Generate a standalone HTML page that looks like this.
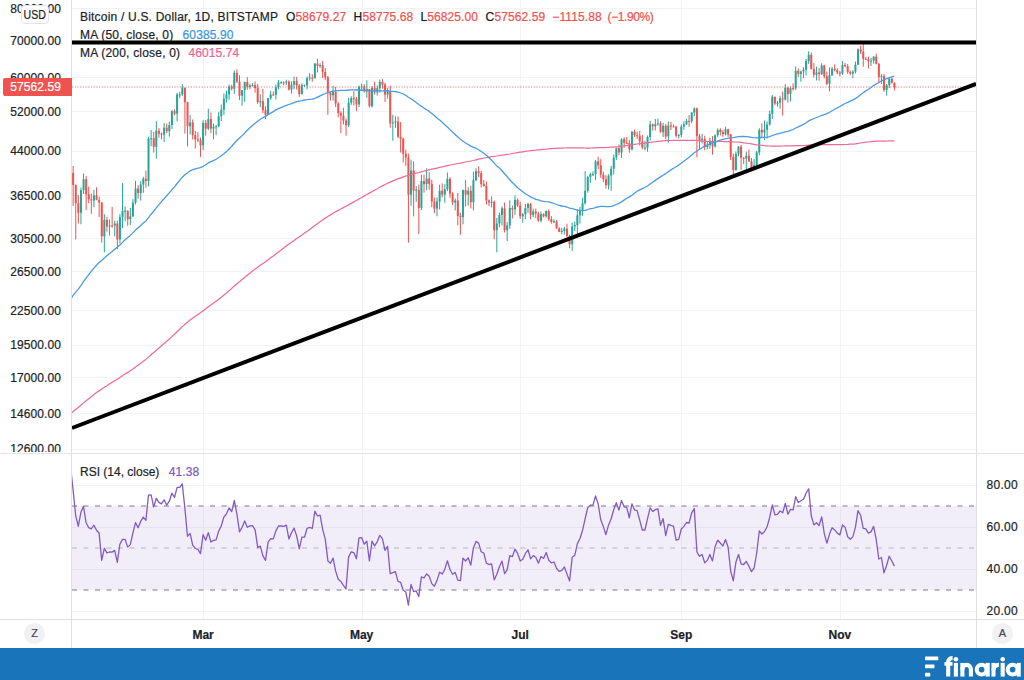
<!DOCTYPE html>
<html><head><meta charset="utf-8"><title>BTCUSD</title>
<style>
html,body{margin:0;padding:0;background:#fff;}
body{width:1024px;height:680px;overflow:hidden;position:relative;font-family:"Liberation Sans",sans-serif;color:#1c1f2a;font-size:12px;-webkit-text-stroke:0.22px currentColor;}
#chart{position:absolute;left:0;top:0;}
.pl{position:absolute;left:0;width:61px;text-align:right;height:16px;line-height:16px;font-size:12px;letter-spacing:0.1px;}
.rl{position:absolute;left:986.6px;height:16px;line-height:16px;font-size:12px;letter-spacing:0.25px;}
.ml{position:absolute;top:627px;width:60px;text-align:center;height:16px;line-height:16px;font-size:12px;font-weight:bold;}
#clip{position:absolute;left:0;top:0;width:72px;height:452.2px;overflow:hidden;}
#usd{position:absolute;left:21px;top:5px;width:26px;height:16.5px;border:1px solid #e0e3eb;border-radius:4px;background:#fff;text-align:center;line-height:18px;font-size:12px;}
#cur{position:absolute;left:3px;top:78.0px;width:69px;height:18px;background:#ef5350;color:#fff;border-radius:2px 0 0 2px;line-height:18px;font-size:12px;}
#cur span{position:absolute;right:11px;letter-spacing:0.1px;}
.lg{position:absolute;left:80px;height:16px;line-height:16px;white-space:nowrap;font-size:12px;}
.tx{letter-spacing:0.2px;}
.ab{position:absolute;height:16px;line-height:16px;white-space:nowrap;font-size:12px;letter-spacing:0.1px;}
.ab.r{color:#ef5350;}
.ab b{font-weight:normal;color:#131722;}
.btn{position:absolute;width:21px;height:21px;border-radius:50%;background:#f1f1f4;text-align:center;line-height:21px;font-size:11px;color:#45474f;}
#foot{position:absolute;left:0;top:648px;width:1024px;height:32px;background:#1974ba;}
</style></head><body>
<svg id="chart" width="1024" height="648" viewBox="0 0 1024 648">
<rect width="1024" height="648" fill="#fff"/>
<line x1="72" x2="976" y1="8.5" y2="8.5" stroke="#f2f3f5" stroke-width="1"/>
<line x1="72" x2="976" y1="40.5" y2="40.5" stroke="#f2f3f5" stroke-width="1"/>
<line x1="72" x2="976" y1="77.5" y2="77.5" stroke="#f2f3f5" stroke-width="1"/>
<line x1="72" x2="976" y1="111.5" y2="111.5" stroke="#f2f3f5" stroke-width="1"/>
<line x1="72" x2="976" y1="151.5" y2="151.5" stroke="#f2f3f5" stroke-width="1"/>
<line x1="72" x2="976" y1="195.5" y2="195.5" stroke="#f2f3f5" stroke-width="1"/>
<line x1="72" x2="976" y1="238.5" y2="238.5" stroke="#f2f3f5" stroke-width="1"/>
<line x1="72" x2="976" y1="271.5" y2="271.5" stroke="#f2f3f5" stroke-width="1"/>
<line x1="72" x2="976" y1="310.5" y2="310.5" stroke="#f2f3f5" stroke-width="1"/>
<line x1="72" x2="976" y1="345.5" y2="345.5" stroke="#f2f3f5" stroke-width="1"/>
<line x1="72" x2="976" y1="377.5" y2="377.5" stroke="#f2f3f5" stroke-width="1"/>
<line x1="72" x2="976" y1="413.5" y2="413.5" stroke="#f2f3f5" stroke-width="1"/>
<line x1="72" x2="976" y1="449.5" y2="449.5" stroke="#f2f3f5" stroke-width="1"/>
<line x1="72" x2="976" y1="485.5" y2="485.5" stroke="#f2f3f5" stroke-width="1"/>
<line x1="72" x2="976" y1="527.5" y2="527.5" stroke="#f2f3f5" stroke-width="1"/>
<line x1="72" x2="976" y1="569.5" y2="569.5" stroke="#f2f3f5" stroke-width="1"/>
<line x1="72" x2="976" y1="611.5" y2="611.5" stroke="#f2f3f5" stroke-width="1"/>
<line x1="203.5" x2="203.5" y1="0" y2="619" stroke="#f2f3f5" stroke-width="1"/>
<line x1="362.5" x2="362.5" y1="0" y2="619" stroke="#f2f3f5" stroke-width="1"/>
<line x1="520.5" x2="520.5" y1="0" y2="619" stroke="#f2f3f5" stroke-width="1"/>
<line x1="681.5" x2="681.5" y1="0" y2="619" stroke="#f2f3f5" stroke-width="1"/>
<line x1="840.5" x2="840.5" y1="0" y2="619" stroke="#f2f3f5" stroke-width="1"/>
<!-- RSI band -->
<rect x="72" y="506.0" width="904" height="84.0" fill="#7e57c2" fill-opacity="0.1"/>
<line x1="72" x2="976" y1="506.0" y2="506.0" stroke="#787b86" stroke-width="1" stroke-dasharray="5 6.5"/>
<line x1="72" x2="976" y1="590.0" y2="590.0" stroke="#787b86" stroke-width="1" stroke-dasharray="5 6.5"/>
<line x1="72" x2="976" y1="548.0" y2="548.0" stroke="#b2b5be" stroke-width="1" stroke-dasharray="5 6.5"/>
<defs><clipPath id="cp"><rect x="72" y="0" width="904" height="619"/></clipPath></defs>
<g clip-path="url(#cp)">
<g id="candles">
<rect x="72.65" y="165.91" width="1" height="40.00" fill="#ef5350"/>
<rect x="72.15" y="172.91" width="2" height="12.16" fill="#ef5350"/>
<rect x="75.25" y="184.45" width="1" height="55.03" fill="#ef5350"/>
<rect x="74.75" y="185.07" width="2" height="18.13" fill="#ef5350"/>
<rect x="77.85" y="195.26" width="1" height="28.30" fill="#ef5350"/>
<rect x="77.35" y="203.20" width="2" height="9.61" fill="#ef5350"/>
<rect x="80.45" y="187.58" width="1" height="36.72" fill="#26a69a"/>
<rect x="79.95" y="190.11" width="2" height="22.70" fill="#26a69a"/>
<rect x="83.05" y="173.51" width="1" height="20.46" fill="#26a69a"/>
<rect x="82.55" y="179.22" width="2" height="10.89" fill="#26a69a"/>
<rect x="85.64" y="175.89" width="1" height="34.13" fill="#ef5350"/>
<rect x="85.14" y="179.22" width="2" height="15.07" fill="#ef5350"/>
<rect x="88.24" y="186.63" width="1" height="16.57" fill="#ef5350"/>
<rect x="87.74" y="194.29" width="2" height="4.91" fill="#ef5350"/>
<rect x="90.84" y="193.64" width="1" height="20.23" fill="#ef5350"/>
<rect x="90.34" y="199.20" width="2" height="1.33" fill="#ef5350"/>
<rect x="93.44" y="189.79" width="1" height="17.48" fill="#26a69a"/>
<rect x="92.94" y="195.26" width="2" height="5.26" fill="#26a69a"/>
<rect x="96.04" y="187.26" width="1" height="12.93" fill="#ef5350"/>
<rect x="95.54" y="195.26" width="2" height="4.60" fill="#ef5350"/>
<rect x="98.64" y="196.57" width="1" height="20.49" fill="#ef5350"/>
<rect x="98.14" y="199.86" width="2" height="2.67" fill="#ef5350"/>
<rect x="101.24" y="201.86" width="1" height="40.77" fill="#ef5350"/>
<rect x="100.74" y="202.53" width="2" height="33.83" fill="#ef5350"/>
<rect x="103.84" y="214.22" width="1" height="38.13" fill="#26a69a"/>
<rect x="103.34" y="219.92" width="2" height="16.43" fill="#26a69a"/>
<rect x="106.44" y="216.70" width="1" height="15.06" fill="#ef5350"/>
<rect x="105.94" y="219.92" width="2" height="6.59" fill="#ef5350"/>
<rect x="109.04" y="219.56" width="1" height="16.02" fill="#26a69a"/>
<rect x="108.54" y="225.40" width="2" height="1.11" fill="#26a69a"/>
<rect x="111.63" y="206.93" width="1" height="21.07" fill="#ef5350"/>
<rect x="111.13" y="225.40" width="2" height="1.00" fill="#ef5350"/>
<rect x="114.23" y="220.65" width="1" height="15.71" fill="#26a69a"/>
<rect x="113.73" y="223.56" width="2" height="2.06" fill="#26a69a"/>
<rect x="116.83" y="220.65" width="1" height="28.42" fill="#ef5350"/>
<rect x="116.33" y="223.56" width="2" height="15.91" fill="#ef5350"/>
<rect x="119.43" y="214.22" width="1" height="29.20" fill="#26a69a"/>
<rect x="118.93" y="217.05" width="2" height="22.42" fill="#26a69a"/>
<rect x="122.03" y="183.20" width="1" height="44.79" fill="#26a69a"/>
<rect x="121.53" y="210.72" width="2" height="6.33" fill="#26a69a"/>
<rect x="124.63" y="206.59" width="1" height="14.78" fill="#26a69a"/>
<rect x="124.13" y="210.72" width="2" height="1.00" fill="#26a69a"/>
<rect x="127.23" y="210.37" width="1" height="15.40" fill="#ef5350"/>
<rect x="126.73" y="210.72" width="2" height="8.48" fill="#ef5350"/>
<rect x="129.83" y="207.96" width="1" height="17.07" fill="#26a69a"/>
<rect x="129.33" y="216.34" width="2" height="2.86" fill="#26a69a"/>
<rect x="132.43" y="199.20" width="1" height="17.86" fill="#26a69a"/>
<rect x="131.93" y="202.53" width="2" height="13.81" fill="#26a69a"/>
<rect x="135.03" y="180.79" width="1" height="23.69" fill="#26a69a"/>
<rect x="134.53" y="188.52" width="2" height="14.01" fill="#26a69a"/>
<rect x="137.62" y="185.08" width="1" height="13.65" fill="#ef5350"/>
<rect x="137.12" y="188.52" width="2" height="4.47" fill="#ef5350"/>
<rect x="140.22" y="181.08" width="1" height="19.54" fill="#26a69a"/>
<rect x="139.72" y="184.45" width="2" height="8.55" fill="#26a69a"/>
<rect x="142.82" y="176.81" width="1" height="15.94" fill="#26a69a"/>
<rect x="142.32" y="178.61" width="2" height="5.84" fill="#26a69a"/>
<rect x="145.42" y="170.56" width="1" height="17.11" fill="#ef5350"/>
<rect x="144.92" y="178.61" width="2" height="2.44" fill="#ef5350"/>
<rect x="148.02" y="136.70" width="1" height="49.62" fill="#26a69a"/>
<rect x="147.52" y="138.75" width="2" height="42.30" fill="#26a69a"/>
<rect x="150.62" y="130.08" width="1" height="16.10" fill="#26a69a"/>
<rect x="150.12" y="138.23" width="2" height="1.00" fill="#26a69a"/>
<rect x="153.22" y="131.83" width="1" height="20.67" fill="#ef5350"/>
<rect x="152.72" y="138.23" width="2" height="8.61" fill="#ef5350"/>
<rect x="155.82" y="121.17" width="1" height="37.43" fill="#26a69a"/>
<rect x="155.32" y="130.67" width="2" height="16.17" fill="#26a69a"/>
<rect x="158.42" y="127.78" width="1" height="9.77" fill="#ef5350"/>
<rect x="157.92" y="130.67" width="2" height="3.00" fill="#ef5350"/>
<rect x="161.02" y="132.56" width="1" height="6.76" fill="#ef5350"/>
<rect x="160.52" y="133.67" width="2" height="1.01" fill="#ef5350"/>
<rect x="163.62" y="122.91" width="1" height="19.06" fill="#26a69a"/>
<rect x="163.12" y="127.71" width="2" height="6.96" fill="#26a69a"/>
<rect x="166.21" y="123.51" width="1" height="9.57" fill="#ef5350"/>
<rect x="165.71" y="127.71" width="2" height="3.46" fill="#ef5350"/>
<rect x="168.81" y="121.62" width="1" height="15.01" fill="#26a69a"/>
<rect x="168.31" y="125.03" width="2" height="6.14" fill="#26a69a"/>
<rect x="171.41" y="110.09" width="1" height="19.07" fill="#26a69a"/>
<rect x="170.91" y="111.15" width="2" height="13.88" fill="#26a69a"/>
<rect x="174.01" y="109.20" width="1" height="6.14" fill="#ef5350"/>
<rect x="173.51" y="111.15" width="2" height="2.53" fill="#ef5350"/>
<rect x="176.61" y="92.84" width="1" height="28.47" fill="#26a69a"/>
<rect x="176.11" y="94.38" width="2" height="19.30" fill="#26a69a"/>
<rect x="179.21" y="91.77" width="1" height="6.39" fill="#26a69a"/>
<rect x="178.71" y="94.38" width="2" height="1.00" fill="#26a69a"/>
<rect x="181.81" y="84.16" width="1" height="11.93" fill="#26a69a"/>
<rect x="181.31" y="87.66" width="2" height="6.72" fill="#26a69a"/>
<rect x="184.41" y="87.66" width="1" height="46.01" fill="#ef5350"/>
<rect x="183.91" y="87.66" width="2" height="14.52" fill="#ef5350"/>
<rect x="187.01" y="101.73" width="1" height="44.84" fill="#ef5350"/>
<rect x="186.51" y="102.17" width="2" height="24.07" fill="#ef5350"/>
<rect x="189.60" y="115.04" width="1" height="19.27" fill="#26a69a"/>
<rect x="189.10" y="122.38" width="2" height="3.87" fill="#26a69a"/>
<rect x="192.20" y="119.39" width="1" height="20.03" fill="#ef5350"/>
<rect x="191.70" y="122.38" width="2" height="12.80" fill="#ef5350"/>
<rect x="194.80" y="130.95" width="1" height="17.35" fill="#ef5350"/>
<rect x="194.30" y="135.18" width="2" height="4.08" fill="#ef5350"/>
<rect x="197.40" y="132.14" width="1" height="10.11" fill="#ef5350"/>
<rect x="196.90" y="139.26" width="2" height="1.03" fill="#ef5350"/>
<rect x="200.00" y="137.72" width="1" height="19.15" fill="#ef5350"/>
<rect x="199.50" y="140.29" width="2" height="4.96" fill="#ef5350"/>
<rect x="202.60" y="120.25" width="1" height="29.85" fill="#26a69a"/>
<rect x="202.10" y="122.86" width="2" height="22.39" fill="#26a69a"/>
<rect x="205.20" y="120.00" width="1" height="15.69" fill="#ef5350"/>
<rect x="204.70" y="122.86" width="2" height="5.83" fill="#ef5350"/>
<rect x="207.80" y="108.65" width="1" height="21.53" fill="#26a69a"/>
<rect x="207.30" y="119.05" width="2" height="9.65" fill="#26a69a"/>
<rect x="210.40" y="112.52" width="1" height="20.64" fill="#ef5350"/>
<rect x="209.90" y="119.05" width="2" height="9.65" fill="#ef5350"/>
<rect x="213.00" y="123.58" width="1" height="15.68" fill="#26a69a"/>
<rect x="212.50" y="126.73" width="2" height="1.96" fill="#26a69a"/>
<rect x="215.59" y="124.79" width="1" height="10.39" fill="#26a69a"/>
<rect x="215.09" y="126.25" width="2" height="1.00" fill="#26a69a"/>
<rect x="218.19" y="111.95" width="1" height="15.39" fill="#26a69a"/>
<rect x="217.69" y="116.23" width="2" height="10.02" fill="#26a69a"/>
<rect x="220.79" y="104.51" width="1" height="16.61" fill="#26a69a"/>
<rect x="220.29" y="109.78" width="2" height="6.45" fill="#26a69a"/>
<rect x="223.39" y="93.50" width="1" height="21.41" fill="#26a69a"/>
<rect x="222.89" y="98.68" width="2" height="11.10" fill="#26a69a"/>
<rect x="225.99" y="90.63" width="1" height="11.97" fill="#26a69a"/>
<rect x="225.49" y="94.38" width="2" height="4.30" fill="#26a69a"/>
<rect x="228.59" y="84.73" width="1" height="15.22" fill="#26a69a"/>
<rect x="228.09" y="86.42" width="2" height="7.96" fill="#26a69a"/>
<rect x="231.19" y="84.85" width="1" height="5.48" fill="#ef5350"/>
<rect x="230.69" y="86.42" width="2" height="2.28" fill="#ef5350"/>
<rect x="233.79" y="70.48" width="1" height="23.48" fill="#26a69a"/>
<rect x="233.29" y="72.80" width="2" height="15.89" fill="#26a69a"/>
<rect x="236.39" y="69.34" width="1" height="13.66" fill="#ef5350"/>
<rect x="235.89" y="72.80" width="2" height="8.72" fill="#ef5350"/>
<rect x="238.99" y="75.15" width="1" height="24.83" fill="#ef5350"/>
<rect x="238.49" y="81.52" width="2" height="14.14" fill="#ef5350"/>
<rect x="241.58" y="89.95" width="1" height="15.78" fill="#26a69a"/>
<rect x="241.08" y="90.16" width="2" height="5.51" fill="#26a69a"/>
<rect x="244.18" y="81.72" width="1" height="20.01" fill="#26a69a"/>
<rect x="243.68" y="81.93" width="2" height="8.23" fill="#26a69a"/>
<rect x="246.78" y="77.12" width="1" height="12.61" fill="#ef5350"/>
<rect x="246.28" y="81.93" width="2" height="5.11" fill="#ef5350"/>
<rect x="249.38" y="83.63" width="1" height="5.61" fill="#26a69a"/>
<rect x="248.88" y="85.39" width="2" height="1.65" fill="#26a69a"/>
<rect x="251.98" y="83.20" width="1" height="3.23" fill="#26a69a"/>
<rect x="251.48" y="85.18" width="2" height="1.00" fill="#26a69a"/>
<rect x="254.58" y="81.31" width="1" height="11.33" fill="#ef5350"/>
<rect x="254.08" y="85.18" width="2" height="2.89" fill="#ef5350"/>
<rect x="257.18" y="83.96" width="1" height="19.99" fill="#ef5350"/>
<rect x="256.68" y="88.07" width="2" height="14.10" fill="#ef5350"/>
<rect x="259.78" y="94.38" width="1" height="12.69" fill="#26a69a"/>
<rect x="259.28" y="101.08" width="2" height="1.10" fill="#26a69a"/>
<rect x="262.38" y="88.90" width="1" height="24.08" fill="#ef5350"/>
<rect x="261.88" y="101.08" width="2" height="9.16" fill="#ef5350"/>
<rect x="264.98" y="106.17" width="1" height="12.88" fill="#ef5350"/>
<rect x="264.48" y="110.24" width="2" height="4.60" fill="#ef5350"/>
<rect x="267.57" y="97.81" width="1" height="17.25" fill="#26a69a"/>
<rect x="267.07" y="98.24" width="2" height="16.59" fill="#26a69a"/>
<rect x="270.17" y="90.85" width="1" height="9.06" fill="#26a69a"/>
<rect x="269.67" y="94.59" width="2" height="3.65" fill="#26a69a"/>
<rect x="272.77" y="91.49" width="1" height="4.09" fill="#ef5350"/>
<rect x="272.27" y="94.59" width="2" height="1.00" fill="#ef5350"/>
<rect x="275.37" y="84.55" width="1" height="14.96" fill="#26a69a"/>
<rect x="274.87" y="87.24" width="2" height="7.56" fill="#26a69a"/>
<rect x="277.97" y="79.95" width="1" height="9.34" fill="#26a69a"/>
<rect x="277.47" y="82.33" width="2" height="4.91" fill="#26a69a"/>
<rect x="280.57" y="81.28" width="1" height="2.39" fill="#26a69a"/>
<rect x="280.07" y="82.33" width="2" height="1.00" fill="#26a69a"/>
<rect x="283.17" y="81.35" width="1" height="4.08" fill="#ef5350"/>
<rect x="282.67" y="82.33" width="2" height="1.00" fill="#ef5350"/>
<rect x="285.77" y="79.72" width="1" height="5.31" fill="#26a69a"/>
<rect x="285.27" y="81.52" width="2" height="1.01" fill="#26a69a"/>
<rect x="288.37" y="80.33" width="1" height="10.16" fill="#ef5350"/>
<rect x="287.87" y="81.52" width="2" height="8.01" fill="#ef5350"/>
<rect x="290.97" y="81.37" width="1" height="12.32" fill="#26a69a"/>
<rect x="290.47" y="84.77" width="2" height="4.75" fill="#26a69a"/>
<rect x="293.56" y="76.56" width="1" height="12.72" fill="#26a69a"/>
<rect x="293.06" y="81.12" width="2" height="3.66" fill="#26a69a"/>
<rect x="296.16" y="76.91" width="1" height="12.70" fill="#ef5350"/>
<rect x="295.66" y="81.12" width="2" height="4.48" fill="#ef5350"/>
<rect x="298.76" y="84.02" width="1" height="12.85" fill="#ef5350"/>
<rect x="298.26" y="85.59" width="2" height="8.36" fill="#ef5350"/>
<rect x="301.36" y="83.23" width="1" height="11.43" fill="#26a69a"/>
<rect x="300.86" y="85.18" width="2" height="8.77" fill="#26a69a"/>
<rect x="303.96" y="84.57" width="1" height="2.12" fill="#26a69a"/>
<rect x="303.46" y="85.18" width="2" height="1.00" fill="#26a69a"/>
<rect x="306.56" y="76.39" width="1" height="12.96" fill="#26a69a"/>
<rect x="306.06" y="78.31" width="2" height="6.87" fill="#26a69a"/>
<rect x="309.16" y="73.06" width="1" height="7.69" fill="#26a69a"/>
<rect x="308.66" y="77.52" width="2" height="1.00" fill="#26a69a"/>
<rect x="311.76" y="74.18" width="1" height="7.49" fill="#ef5350"/>
<rect x="311.26" y="77.52" width="2" height="1.00" fill="#ef5350"/>
<rect x="314.36" y="62.89" width="1" height="15.82" fill="#26a69a"/>
<rect x="313.86" y="63.64" width="2" height="14.48" fill="#26a69a"/>
<rect x="316.96" y="58.82" width="1" height="13.59" fill="#ef5350"/>
<rect x="316.46" y="63.64" width="2" height="2.26" fill="#ef5350"/>
<rect x="319.56" y="63.29" width="1" height="4.51" fill="#26a69a"/>
<rect x="319.06" y="65.14" width="2" height="1.00" fill="#26a69a"/>
<rect x="322.15" y="60.99" width="1" height="16.98" fill="#ef5350"/>
<rect x="321.65" y="65.14" width="2" height="6.88" fill="#ef5350"/>
<rect x="324.75" y="67.97" width="1" height="12.22" fill="#ef5350"/>
<rect x="324.25" y="72.02" width="2" height="5.49" fill="#ef5350"/>
<rect x="327.35" y="75.94" width="1" height="38.90" fill="#ef5350"/>
<rect x="326.85" y="77.52" width="2" height="15.58" fill="#ef5350"/>
<rect x="329.95" y="91.67" width="1" height="8.73" fill="#ef5350"/>
<rect x="329.45" y="93.10" width="2" height="2.13" fill="#ef5350"/>
<rect x="332.55" y="85.75" width="1" height="15.04" fill="#26a69a"/>
<rect x="332.05" y="91.84" width="2" height="3.40" fill="#26a69a"/>
<rect x="335.15" y="86.96" width="1" height="20.16" fill="#ef5350"/>
<rect x="334.65" y="91.84" width="2" height="11.66" fill="#ef5350"/>
<rect x="337.75" y="102.09" width="1" height="15.18" fill="#ef5350"/>
<rect x="337.25" y="103.50" width="2" height="9.48" fill="#ef5350"/>
<rect x="340.35" y="111.15" width="1" height="22.02" fill="#ef5350"/>
<rect x="339.85" y="112.98" width="2" height="2.55" fill="#ef5350"/>
<rect x="342.95" y="107.75" width="1" height="16.67" fill="#ef5350"/>
<rect x="342.45" y="115.53" width="2" height="4.94" fill="#ef5350"/>
<rect x="345.55" y="118.58" width="1" height="17.11" fill="#ef5350"/>
<rect x="345.05" y="120.47" width="2" height="4.80" fill="#ef5350"/>
<rect x="348.14" y="97.88" width="1" height="29.31" fill="#26a69a"/>
<rect x="347.64" y="102.62" width="2" height="22.66" fill="#26a69a"/>
<rect x="350.74" y="96.25" width="1" height="8.61" fill="#26a69a"/>
<rect x="350.24" y="98.24" width="2" height="4.37" fill="#26a69a"/>
<rect x="353.34" y="91.19" width="1" height="14.29" fill="#ef5350"/>
<rect x="352.84" y="98.24" width="2" height="1.00" fill="#ef5350"/>
<rect x="355.94" y="96.95" width="1" height="14.19" fill="#ef5350"/>
<rect x="355.44" y="98.90" width="2" height="5.49" fill="#ef5350"/>
<rect x="358.54" y="85.59" width="1" height="21.47" fill="#26a69a"/>
<rect x="358.04" y="86.62" width="2" height="17.76" fill="#26a69a"/>
<rect x="361.14" y="83.57" width="1" height="7.11" fill="#26a69a"/>
<rect x="360.64" y="86.42" width="2" height="1.00" fill="#26a69a"/>
<rect x="363.74" y="84.28" width="1" height="8.41" fill="#ef5350"/>
<rect x="363.24" y="86.42" width="2" height="5.00" fill="#ef5350"/>
<rect x="366.34" y="80.31" width="1" height="17.49" fill="#26a69a"/>
<rect x="365.84" y="88.90" width="2" height="2.51" fill="#26a69a"/>
<rect x="368.94" y="88.90" width="1" height="18.62" fill="#ef5350"/>
<rect x="368.44" y="88.90" width="2" height="17.27" fill="#ef5350"/>
<rect x="371.53" y="86.01" width="1" height="21.51" fill="#26a69a"/>
<rect x="371.03" y="87.86" width="2" height="18.31" fill="#26a69a"/>
<rect x="374.13" y="81.66" width="1" height="12.96" fill="#ef5350"/>
<rect x="373.63" y="87.86" width="2" height="4.39" fill="#ef5350"/>
<rect x="376.73" y="85.34" width="1" height="10.26" fill="#26a69a"/>
<rect x="376.23" y="88.28" width="2" height="3.98" fill="#26a69a"/>
<rect x="379.33" y="79.66" width="1" height="13.10" fill="#26a69a"/>
<rect x="378.83" y="81.93" width="2" height="6.35" fill="#26a69a"/>
<rect x="381.93" y="79.05" width="1" height="9.64" fill="#ef5350"/>
<rect x="381.43" y="81.93" width="2" height="2.64" fill="#ef5350"/>
<rect x="384.53" y="82.77" width="1" height="19.15" fill="#ef5350"/>
<rect x="384.03" y="84.57" width="2" height="10.02" fill="#ef5350"/>
<rect x="387.13" y="87.78" width="1" height="10.81" fill="#26a69a"/>
<rect x="386.63" y="90.99" width="2" height="3.60" fill="#26a69a"/>
<rect x="389.73" y="85.59" width="1" height="42.12" fill="#ef5350"/>
<rect x="389.23" y="90.99" width="2" height="32.35" fill="#ef5350"/>
<rect x="392.33" y="114.83" width="1" height="25.98" fill="#26a69a"/>
<rect x="391.83" y="122.38" width="2" height="1.00" fill="#26a69a"/>
<rect x="394.93" y="116.33" width="1" height="11.53" fill="#26a69a"/>
<rect x="394.43" y="121.42" width="2" height="1.00" fill="#26a69a"/>
<rect x="397.52" y="116.49" width="1" height="21.52" fill="#ef5350"/>
<rect x="397.02" y="121.42" width="2" height="15.28" fill="#ef5350"/>
<rect x="400.12" y="121.90" width="1" height="30.58" fill="#ef5350"/>
<rect x="399.62" y="136.70" width="2" height="1.79" fill="#ef5350"/>
<rect x="402.72" y="137.72" width="1" height="24.76" fill="#ef5350"/>
<rect x="402.22" y="138.49" width="2" height="15.36" fill="#ef5350"/>
<rect x="405.32" y="149.66" width="1" height="16.28" fill="#ef5350"/>
<rect x="404.82" y="153.85" width="2" height="3.58" fill="#ef5350"/>
<rect x="407.92" y="153.57" width="1" height="89.05" fill="#ef5350"/>
<rect x="407.42" y="157.43" width="2" height="37.18" fill="#ef5350"/>
<rect x="410.52" y="159.66" width="1" height="46.25" fill="#26a69a"/>
<rect x="410.02" y="170.55" width="2" height="24.06" fill="#26a69a"/>
<rect x="413.12" y="161.35" width="1" height="54.99" fill="#ef5350"/>
<rect x="412.62" y="170.55" width="2" height="20.19" fill="#ef5350"/>
<rect x="415.72" y="185.98" width="1" height="15.85" fill="#26a69a"/>
<rect x="415.22" y="189.79" width="2" height="1.00" fill="#26a69a"/>
<rect x="418.32" y="184.45" width="1" height="49.60" fill="#ef5350"/>
<rect x="417.82" y="189.79" width="2" height="18.17" fill="#ef5350"/>
<rect x="420.92" y="174.70" width="1" height="35.33" fill="#26a69a"/>
<rect x="420.42" y="181.05" width="2" height="26.91" fill="#26a69a"/>
<rect x="423.51" y="174.70" width="1" height="17.93" fill="#ef5350"/>
<rect x="423.01" y="181.05" width="2" height="3.09" fill="#ef5350"/>
<rect x="426.11" y="168.32" width="1" height="21.87" fill="#26a69a"/>
<rect x="425.61" y="178.61" width="2" height="5.53" fill="#26a69a"/>
<rect x="428.71" y="172.23" width="1" height="17.34" fill="#ef5350"/>
<rect x="428.21" y="178.61" width="2" height="5.22" fill="#ef5350"/>
<rect x="431.31" y="179.80" width="1" height="27.36" fill="#ef5350"/>
<rect x="430.81" y="183.82" width="2" height="17.70" fill="#ef5350"/>
<rect x="433.91" y="197.65" width="1" height="15.62" fill="#ef5350"/>
<rect x="433.41" y="201.52" width="2" height="7.12" fill="#ef5350"/>
<rect x="436.51" y="197.37" width="1" height="18.94" fill="#26a69a"/>
<rect x="436.01" y="201.52" width="2" height="7.12" fill="#26a69a"/>
<rect x="439.11" y="184.61" width="1" height="24.92" fill="#26a69a"/>
<rect x="438.61" y="190.75" width="2" height="10.78" fill="#26a69a"/>
<rect x="441.71" y="183.34" width="1" height="14.13" fill="#ef5350"/>
<rect x="441.21" y="190.75" width="2" height="3.86" fill="#ef5350"/>
<rect x="444.31" y="184.11" width="1" height="18.70" fill="#26a69a"/>
<rect x="443.81" y="189.16" width="2" height="5.45" fill="#26a69a"/>
<rect x="446.91" y="172.48" width="1" height="18.63" fill="#26a69a"/>
<rect x="446.41" y="178.91" width="2" height="10.24" fill="#26a69a"/>
<rect x="449.50" y="177.14" width="1" height="20.69" fill="#ef5350"/>
<rect x="449.00" y="178.91" width="2" height="14.73" fill="#ef5350"/>
<rect x="452.10" y="192.23" width="1" height="12.92" fill="#ef5350"/>
<rect x="451.60" y="193.64" width="2" height="8.89" fill="#ef5350"/>
<rect x="454.70" y="198.47" width="1" height="11.98" fill="#26a69a"/>
<rect x="454.20" y="200.52" width="2" height="2.00" fill="#26a69a"/>
<rect x="457.30" y="193.01" width="1" height="32.31" fill="#ef5350"/>
<rect x="456.80" y="200.52" width="2" height="15.46" fill="#ef5350"/>
<rect x="459.90" y="212.81" width="1" height="22.00" fill="#ef5350"/>
<rect x="459.40" y="215.99" width="2" height="1.07" fill="#ef5350"/>
<rect x="462.50" y="189.47" width="1" height="34.82" fill="#26a69a"/>
<rect x="462.00" y="190.11" width="2" height="26.94" fill="#26a69a"/>
<rect x="465.10" y="179.91" width="1" height="26.49" fill="#ef5350"/>
<rect x="464.60" y="190.11" width="2" height="4.50" fill="#ef5350"/>
<rect x="467.70" y="187.26" width="1" height="18.36" fill="#26a69a"/>
<rect x="467.20" y="190.75" width="2" height="3.86" fill="#26a69a"/>
<rect x="470.30" y="185.75" width="1" height="22.70" fill="#ef5350"/>
<rect x="469.80" y="190.75" width="2" height="11.45" fill="#ef5350"/>
<rect x="472.90" y="171.60" width="1" height="38.94" fill="#26a69a"/>
<rect x="472.40" y="180.13" width="2" height="22.06" fill="#26a69a"/>
<rect x="475.50" y="168.22" width="1" height="13.14" fill="#26a69a"/>
<rect x="475.00" y="171.14" width="2" height="8.99" fill="#26a69a"/>
<rect x="478.09" y="166.48" width="1" height="10.61" fill="#ef5350"/>
<rect x="477.59" y="171.14" width="2" height="2.07" fill="#ef5350"/>
<rect x="480.69" y="170.79" width="1" height="16.82" fill="#ef5350"/>
<rect x="480.19" y="173.21" width="2" height="10.93" fill="#ef5350"/>
<rect x="483.29" y="180.04" width="1" height="6.76" fill="#ef5350"/>
<rect x="482.79" y="184.13" width="2" height="1.87" fill="#ef5350"/>
<rect x="485.89" y="181.52" width="1" height="23.07" fill="#ef5350"/>
<rect x="485.39" y="186.01" width="2" height="14.52" fill="#ef5350"/>
<rect x="488.49" y="199.33" width="1" height="6.78" fill="#ef5350"/>
<rect x="487.99" y="200.52" width="2" height="2.00" fill="#ef5350"/>
<rect x="491.09" y="196.37" width="1" height="10.97" fill="#26a69a"/>
<rect x="490.59" y="201.86" width="2" height="1.00" fill="#26a69a"/>
<rect x="493.69" y="200.42" width="1" height="38.82" fill="#ef5350"/>
<rect x="493.19" y="201.86" width="2" height="28.39" fill="#ef5350"/>
<rect x="496.29" y="217.77" width="1" height="34.58" fill="#26a69a"/>
<rect x="495.79" y="223.56" width="2" height="6.69" fill="#26a69a"/>
<rect x="498.89" y="212.70" width="1" height="14.70" fill="#26a69a"/>
<rect x="498.39" y="214.92" width="2" height="8.64" fill="#26a69a"/>
<rect x="501.49" y="206.28" width="1" height="19.36" fill="#26a69a"/>
<rect x="500.99" y="208.30" width="2" height="6.62" fill="#26a69a"/>
<rect x="504.08" y="202.53" width="1" height="29.99" fill="#ef5350"/>
<rect x="503.58" y="208.30" width="2" height="21.95" fill="#ef5350"/>
<rect x="506.68" y="222.10" width="1" height="18.94" fill="#26a69a"/>
<rect x="506.18" y="225.40" width="2" height="4.85" fill="#26a69a"/>
<rect x="509.28" y="200.38" width="1" height="28.51" fill="#26a69a"/>
<rect x="508.78" y="207.96" width="2" height="17.44" fill="#26a69a"/>
<rect x="511.88" y="205.50" width="1" height="12.98" fill="#ef5350"/>
<rect x="511.38" y="207.96" width="2" height="1.38" fill="#ef5350"/>
<rect x="514.48" y="195.46" width="1" height="19.39" fill="#26a69a"/>
<rect x="513.98" y="199.86" width="2" height="9.48" fill="#26a69a"/>
<rect x="517.08" y="198.41" width="1" height="8.45" fill="#ef5350"/>
<rect x="516.58" y="199.86" width="2" height="5.71" fill="#ef5350"/>
<rect x="519.68" y="201.84" width="1" height="17.21" fill="#ef5350"/>
<rect x="519.18" y="205.57" width="2" height="10.77" fill="#ef5350"/>
<rect x="522.28" y="212.95" width="1" height="9.85" fill="#26a69a"/>
<rect x="521.78" y="214.22" width="2" height="2.12" fill="#26a69a"/>
<rect x="524.88" y="204.01" width="1" height="15.22" fill="#26a69a"/>
<rect x="524.38" y="207.96" width="2" height="6.26" fill="#26a69a"/>
<rect x="527.48" y="202.81" width="1" height="9.97" fill="#26a69a"/>
<rect x="526.98" y="203.87" width="2" height="4.08" fill="#26a69a"/>
<rect x="530.07" y="203.01" width="1" height="16.25" fill="#ef5350"/>
<rect x="529.57" y="203.87" width="2" height="11.05" fill="#ef5350"/>
<rect x="532.67" y="208.56" width="1" height="8.72" fill="#26a69a"/>
<rect x="532.17" y="211.42" width="2" height="3.51" fill="#26a69a"/>
<rect x="535.27" y="208.47" width="1" height="9.69" fill="#ef5350"/>
<rect x="534.77" y="211.42" width="2" height="2.10" fill="#ef5350"/>
<rect x="537.87" y="211.75" width="1" height="10.12" fill="#ef5350"/>
<rect x="537.37" y="213.51" width="2" height="7.13" fill="#ef5350"/>
<rect x="540.47" y="211.48" width="1" height="10.79" fill="#26a69a"/>
<rect x="539.97" y="214.22" width="2" height="6.43" fill="#26a69a"/>
<rect x="543.07" y="213.21" width="1" height="4.37" fill="#ef5350"/>
<rect x="542.57" y="214.22" width="2" height="2.12" fill="#ef5350"/>
<rect x="545.67" y="210.32" width="1" height="7.40" fill="#26a69a"/>
<rect x="545.17" y="211.07" width="2" height="5.27" fill="#26a69a"/>
<rect x="548.27" y="209.37" width="1" height="11.56" fill="#ef5350"/>
<rect x="547.77" y="211.07" width="2" height="8.14" fill="#ef5350"/>
<rect x="550.87" y="216.12" width="1" height="7.50" fill="#ef5350"/>
<rect x="550.37" y="219.20" width="2" height="2.90" fill="#ef5350"/>
<rect x="553.47" y="219.24" width="1" height="3.93" fill="#26a69a"/>
<rect x="552.97" y="221.37" width="2" height="1.00" fill="#26a69a"/>
<rect x="556.06" y="219.97" width="1" height="8.89" fill="#ef5350"/>
<rect x="555.56" y="221.37" width="2" height="7.00" fill="#ef5350"/>
<rect x="558.66" y="227.27" width="1" height="4.95" fill="#ef5350"/>
<rect x="558.16" y="228.37" width="2" height="3.39" fill="#ef5350"/>
<rect x="561.26" y="227.98" width="1" height="6.21" fill="#26a69a"/>
<rect x="560.76" y="231.00" width="2" height="1.00" fill="#26a69a"/>
<rect x="563.86" y="226.90" width="1" height="7.61" fill="#26a69a"/>
<rect x="563.36" y="228.75" width="2" height="2.26" fill="#26a69a"/>
<rect x="566.46" y="223.65" width="1" height="13.56" fill="#ef5350"/>
<rect x="565.96" y="228.75" width="2" height="7.22" fill="#ef5350"/>
<rect x="569.06" y="234.82" width="1" height="13.43" fill="#ef5350"/>
<rect x="568.56" y="235.97" width="2" height="8.25" fill="#ef5350"/>
<rect x="571.66" y="222.61" width="1" height="28.20" fill="#26a69a"/>
<rect x="571.16" y="226.51" width="2" height="17.71" fill="#26a69a"/>
<rect x="574.26" y="221.41" width="1" height="9.60" fill="#26a69a"/>
<rect x="573.76" y="225.03" width="2" height="1.48" fill="#26a69a"/>
<rect x="576.86" y="209.14" width="1" height="24.82" fill="#26a69a"/>
<rect x="576.36" y="215.28" width="2" height="9.75" fill="#26a69a"/>
<rect x="579.46" y="206.77" width="1" height="16.78" fill="#26a69a"/>
<rect x="578.96" y="210.72" width="2" height="4.56" fill="#26a69a"/>
<rect x="582.05" y="197.86" width="1" height="18.03" fill="#26a69a"/>
<rect x="581.55" y="203.20" width="2" height="7.52" fill="#26a69a"/>
<rect x="584.65" y="171.14" width="1" height="33.41" fill="#26a69a"/>
<rect x="584.15" y="190.75" width="2" height="12.45" fill="#26a69a"/>
<rect x="587.25" y="175.80" width="1" height="16.86" fill="#26a69a"/>
<rect x="586.75" y="177.10" width="2" height="13.65" fill="#26a69a"/>
<rect x="589.85" y="172.71" width="1" height="10.26" fill="#26a69a"/>
<rect x="589.35" y="174.10" width="2" height="3.00" fill="#26a69a"/>
<rect x="592.45" y="171.45" width="1" height="4.70" fill="#26a69a"/>
<rect x="591.95" y="174.10" width="2" height="1.00" fill="#26a69a"/>
<rect x="595.05" y="160.05" width="1" height="20.01" fill="#26a69a"/>
<rect x="594.55" y="161.35" width="2" height="12.75" fill="#26a69a"/>
<rect x="597.65" y="156.72" width="1" height="12.46" fill="#ef5350"/>
<rect x="597.15" y="161.35" width="2" height="3.98" fill="#ef5350"/>
<rect x="600.25" y="159.10" width="1" height="18.60" fill="#ef5350"/>
<rect x="599.75" y="165.33" width="2" height="9.37" fill="#ef5350"/>
<rect x="602.85" y="171.44" width="1" height="10.53" fill="#ef5350"/>
<rect x="602.35" y="174.70" width="2" height="4.52" fill="#ef5350"/>
<rect x="605.45" y="175.29" width="1" height="13.23" fill="#ef5350"/>
<rect x="604.95" y="179.22" width="2" height="5.85" fill="#ef5350"/>
<rect x="608.04" y="174.40" width="1" height="15.08" fill="#26a69a"/>
<rect x="607.54" y="175.59" width="2" height="9.47" fill="#26a69a"/>
<rect x="610.64" y="165.91" width="1" height="24.84" fill="#26a69a"/>
<rect x="610.14" y="168.80" width="2" height="6.79" fill="#26a69a"/>
<rect x="613.24" y="154.67" width="1" height="20.03" fill="#26a69a"/>
<rect x="612.74" y="157.71" width="2" height="11.09" fill="#26a69a"/>
<rect x="615.84" y="147.64" width="1" height="12.30" fill="#26a69a"/>
<rect x="615.34" y="148.17" width="2" height="9.53" fill="#26a69a"/>
<rect x="618.44" y="144.46" width="1" height="10.76" fill="#ef5350"/>
<rect x="617.94" y="148.17" width="2" height="4.31" fill="#ef5350"/>
<rect x="621.04" y="138.23" width="1" height="19.75" fill="#26a69a"/>
<rect x="620.54" y="139.26" width="2" height="13.22" fill="#26a69a"/>
<rect x="623.64" y="137.21" width="1" height="10.69" fill="#ef5350"/>
<rect x="623.14" y="139.26" width="2" height="3.63" fill="#ef5350"/>
<rect x="626.24" y="136.96" width="1" height="7.24" fill="#ef5350"/>
<rect x="625.74" y="142.89" width="2" height="1.00" fill="#ef5350"/>
<rect x="628.84" y="139.78" width="1" height="12.98" fill="#ef5350"/>
<rect x="628.34" y="143.15" width="2" height="6.09" fill="#ef5350"/>
<rect x="631.44" y="131.42" width="1" height="18.90" fill="#26a69a"/>
<rect x="630.94" y="131.67" width="2" height="17.58" fill="#26a69a"/>
<rect x="634.03" y="129.56" width="1" height="7.43" fill="#ef5350"/>
<rect x="633.53" y="131.67" width="2" height="3.51" fill="#ef5350"/>
<rect x="636.63" y="131.74" width="1" height="7.16" fill="#ef5350"/>
<rect x="636.13" y="135.18" width="2" height="1.00" fill="#ef5350"/>
<rect x="639.23" y="131.07" width="1" height="14.57" fill="#ef5350"/>
<rect x="638.73" y="135.69" width="2" height="5.64" fill="#ef5350"/>
<rect x="641.83" y="134.93" width="1" height="14.31" fill="#ef5350"/>
<rect x="641.33" y="141.33" width="2" height="6.31" fill="#ef5350"/>
<rect x="644.43" y="140.81" width="1" height="9.51" fill="#26a69a"/>
<rect x="643.93" y="147.64" width="2" height="1.00" fill="#26a69a"/>
<rect x="647.03" y="135.43" width="1" height="16.24" fill="#26a69a"/>
<rect x="646.53" y="136.96" width="2" height="10.68" fill="#26a69a"/>
<rect x="649.63" y="120.73" width="1" height="19.70" fill="#26a69a"/>
<rect x="649.13" y="124.31" width="2" height="12.65" fill="#26a69a"/>
<rect x="652.23" y="123.48" width="1" height="7.16" fill="#ef5350"/>
<rect x="651.73" y="124.31" width="2" height="1.94" fill="#ef5350"/>
<rect x="654.83" y="118.97" width="1" height="11.37" fill="#26a69a"/>
<rect x="654.33" y="124.31" width="2" height="1.94" fill="#26a69a"/>
<rect x="657.43" y="118.58" width="1" height="7.18" fill="#26a69a"/>
<rect x="656.93" y="123.34" width="2" height="1.00" fill="#26a69a"/>
<rect x="660.02" y="121.42" width="1" height="11.24" fill="#ef5350"/>
<rect x="659.52" y="123.34" width="2" height="8.82" fill="#ef5350"/>
<rect x="662.62" y="122.67" width="1" height="14.37" fill="#26a69a"/>
<rect x="662.12" y="125.76" width="2" height="6.40" fill="#26a69a"/>
<rect x="665.22" y="124.06" width="1" height="15.20" fill="#ef5350"/>
<rect x="664.72" y="125.76" width="2" height="10.69" fill="#ef5350"/>
<rect x="667.82" y="121.51" width="1" height="21.04" fill="#26a69a"/>
<rect x="667.32" y="125.52" width="2" height="10.93" fill="#26a69a"/>
<rect x="670.42" y="121.74" width="1" height="8.40" fill="#ef5350"/>
<rect x="669.92" y="125.52" width="2" height="1.00" fill="#ef5350"/>
<rect x="673.02" y="124.44" width="1" height="3.15" fill="#ef5350"/>
<rect x="672.52" y="126.25" width="2" height="1.00" fill="#ef5350"/>
<rect x="675.62" y="125.70" width="1" height="11.96" fill="#ef5350"/>
<rect x="675.12" y="126.73" width="2" height="8.95" fill="#ef5350"/>
<rect x="678.22" y="134.19" width="1" height="4.42" fill="#26a69a"/>
<rect x="677.72" y="134.93" width="2" height="1.00" fill="#26a69a"/>
<rect x="680.82" y="124.46" width="1" height="12.80" fill="#26a69a"/>
<rect x="680.32" y="126.49" width="2" height="8.44" fill="#26a69a"/>
<rect x="683.42" y="121.33" width="1" height="8.42" fill="#26a69a"/>
<rect x="682.92" y="124.31" width="2" height="2.18" fill="#26a69a"/>
<rect x="686.01" y="118.84" width="1" height="5.96" fill="#26a69a"/>
<rect x="685.51" y="120.95" width="2" height="3.36" fill="#26a69a"/>
<rect x="688.61" y="115.04" width="1" height="11.89" fill="#ef5350"/>
<rect x="688.11" y="120.95" width="2" height="1.00" fill="#ef5350"/>
<rect x="691.21" y="112.06" width="1" height="11.28" fill="#26a69a"/>
<rect x="690.71" y="112.52" width="2" height="8.66" fill="#26a69a"/>
<rect x="693.81" y="107.52" width="1" height="8.71" fill="#26a69a"/>
<rect x="693.31" y="108.42" width="2" height="4.10" fill="#26a69a"/>
<rect x="696.41" y="107.52" width="1" height="49.91" fill="#ef5350"/>
<rect x="695.91" y="108.42" width="2" height="27.77" fill="#ef5350"/>
<rect x="699.01" y="133.92" width="1" height="15.32" fill="#ef5350"/>
<rect x="698.51" y="136.19" width="2" height="4.10" fill="#ef5350"/>
<rect x="701.61" y="133.67" width="1" height="9.74" fill="#26a69a"/>
<rect x="701.11" y="138.75" width="2" height="1.55" fill="#26a69a"/>
<rect x="704.21" y="135.69" width="1" height="14.63" fill="#ef5350"/>
<rect x="703.71" y="138.75" width="2" height="8.09" fill="#ef5350"/>
<rect x="706.81" y="142.20" width="1" height="6.98" fill="#26a69a"/>
<rect x="706.31" y="144.99" width="2" height="1.85" fill="#26a69a"/>
<rect x="709.41" y="137.74" width="1" height="11.11" fill="#26a69a"/>
<rect x="708.91" y="140.55" width="2" height="4.44" fill="#26a69a"/>
<rect x="712.00" y="136.19" width="1" height="18.47" fill="#ef5350"/>
<rect x="711.50" y="140.55" width="2" height="5.76" fill="#ef5350"/>
<rect x="714.60" y="134.42" width="1" height="13.22" fill="#26a69a"/>
<rect x="714.10" y="135.18" width="2" height="11.13" fill="#26a69a"/>
<rect x="717.20" y="128.45" width="1" height="8.76" fill="#26a69a"/>
<rect x="716.70" y="129.93" width="2" height="5.25" fill="#26a69a"/>
<rect x="719.80" y="128.20" width="1" height="7.23" fill="#ef5350"/>
<rect x="719.30" y="129.93" width="2" height="1.99" fill="#ef5350"/>
<rect x="722.40" y="129.93" width="1" height="7.03" fill="#ef5350"/>
<rect x="721.90" y="131.92" width="2" height="2.26" fill="#ef5350"/>
<rect x="725.00" y="126.73" width="1" height="8.70" fill="#26a69a"/>
<rect x="724.50" y="129.19" width="2" height="4.98" fill="#26a69a"/>
<rect x="727.60" y="128.69" width="1" height="8.01" fill="#ef5350"/>
<rect x="727.10" y="129.19" width="2" height="5.24" fill="#ef5350"/>
<rect x="730.20" y="133.92" width="1" height="26.02" fill="#ef5350"/>
<rect x="729.70" y="134.42" width="2" height="22.45" fill="#ef5350"/>
<rect x="732.80" y="153.57" width="1" height="22.92" fill="#ef5350"/>
<rect x="732.30" y="156.87" width="2" height="13.09" fill="#ef5350"/>
<rect x="735.40" y="151.40" width="1" height="19.45" fill="#26a69a"/>
<rect x="734.90" y="153.85" width="2" height="16.12" fill="#26a69a"/>
<rect x="737.99" y="146.15" width="1" height="10.17" fill="#26a69a"/>
<rect x="737.49" y="146.57" width="2" height="7.27" fill="#26a69a"/>
<rect x="740.59" y="144.99" width="1" height="24.98" fill="#ef5350"/>
<rect x="740.09" y="146.57" width="2" height="11.13" fill="#ef5350"/>
<rect x="743.19" y="157.15" width="1" height="7.04" fill="#ef5350"/>
<rect x="742.69" y="157.71" width="2" height="1.00" fill="#ef5350"/>
<rect x="745.79" y="151.67" width="1" height="17.72" fill="#26a69a"/>
<rect x="745.29" y="155.77" width="2" height="2.77" fill="#26a69a"/>
<rect x="748.39" y="149.51" width="1" height="12.40" fill="#ef5350"/>
<rect x="747.89" y="155.77" width="2" height="5.58" fill="#ef5350"/>
<rect x="750.99" y="157.98" width="1" height="10.82" fill="#ef5350"/>
<rect x="750.49" y="161.35" width="2" height="6.58" fill="#ef5350"/>
<rect x="753.59" y="159.10" width="1" height="10.58" fill="#26a69a"/>
<rect x="753.09" y="165.04" width="2" height="2.88" fill="#26a69a"/>
<rect x="756.19" y="150.86" width="1" height="15.05" fill="#26a69a"/>
<rect x="755.69" y="152.48" width="2" height="12.56" fill="#26a69a"/>
<rect x="758.79" y="128.20" width="1" height="27.01" fill="#26a69a"/>
<rect x="758.29" y="129.93" width="2" height="22.55" fill="#26a69a"/>
<rect x="761.39" y="123.15" width="1" height="14.02" fill="#ef5350"/>
<rect x="760.89" y="129.93" width="2" height="2.49" fill="#ef5350"/>
<rect x="763.98" y="120.60" width="1" height="19.63" fill="#26a69a"/>
<rect x="763.48" y="129.68" width="2" height="2.73" fill="#26a69a"/>
<rect x="766.58" y="121.47" width="1" height="17.14" fill="#26a69a"/>
<rect x="766.08" y="124.55" width="2" height="5.13" fill="#26a69a"/>
<rect x="769.18" y="110.46" width="1" height="15.07" fill="#26a69a"/>
<rect x="768.68" y="113.91" width="2" height="10.64" fill="#26a69a"/>
<rect x="771.78" y="95.02" width="1" height="24.03" fill="#26a69a"/>
<rect x="771.28" y="96.73" width="2" height="17.17" fill="#26a69a"/>
<rect x="774.38" y="96.73" width="1" height="8.54" fill="#ef5350"/>
<rect x="773.88" y="96.73" width="2" height="6.77" fill="#ef5350"/>
<rect x="776.98" y="101.03" width="1" height="5.61" fill="#26a69a"/>
<rect x="776.48" y="102.84" width="2" height="1.00" fill="#26a69a"/>
<rect x="779.58" y="95.80" width="1" height="12.94" fill="#26a69a"/>
<rect x="779.08" y="98.46" width="2" height="4.37" fill="#26a69a"/>
<rect x="782.18" y="91.41" width="1" height="24.12" fill="#ef5350"/>
<rect x="781.68" y="98.46" width="2" height="1.09" fill="#ef5350"/>
<rect x="784.78" y="84.10" width="1" height="16.46" fill="#26a69a"/>
<rect x="784.28" y="87.66" width="2" height="11.89" fill="#26a69a"/>
<rect x="787.38" y="86.83" width="1" height="15.79" fill="#ef5350"/>
<rect x="786.88" y="87.66" width="2" height="6.30" fill="#ef5350"/>
<rect x="789.97" y="86.42" width="1" height="15.10" fill="#26a69a"/>
<rect x="789.47" y="88.07" width="2" height="5.88" fill="#26a69a"/>
<rect x="792.57" y="83.35" width="1" height="7.23" fill="#ef5350"/>
<rect x="792.07" y="88.07" width="2" height="1.00" fill="#ef5350"/>
<rect x="795.17" y="66.28" width="1" height="23.88" fill="#26a69a"/>
<rect x="794.67" y="70.86" width="2" height="17.42" fill="#26a69a"/>
<rect x="797.77" y="68.37" width="1" height="8.75" fill="#ef5350"/>
<rect x="797.27" y="70.86" width="2" height="3.11" fill="#ef5350"/>
<rect x="800.37" y="70.67" width="1" height="11.05" fill="#26a69a"/>
<rect x="799.87" y="71.44" width="2" height="2.53" fill="#26a69a"/>
<rect x="802.97" y="67.22" width="1" height="10.69" fill="#26a69a"/>
<rect x="802.47" y="69.71" width="2" height="1.74" fill="#26a69a"/>
<rect x="805.57" y="58.90" width="1" height="16.45" fill="#26a69a"/>
<rect x="805.07" y="61.03" width="2" height="8.68" fill="#26a69a"/>
<rect x="808.17" y="51.23" width="1" height="12.78" fill="#26a69a"/>
<rect x="807.67" y="54.82" width="2" height="6.22" fill="#26a69a"/>
<rect x="810.77" y="52.48" width="1" height="17.03" fill="#ef5350"/>
<rect x="810.27" y="54.82" width="2" height="14.13" fill="#ef5350"/>
<rect x="813.37" y="63.08" width="1" height="14.44" fill="#ef5350"/>
<rect x="812.87" y="68.94" width="2" height="5.81" fill="#ef5350"/>
<rect x="815.96" y="66.48" width="1" height="13.98" fill="#26a69a"/>
<rect x="815.46" y="72.41" width="2" height="2.34" fill="#26a69a"/>
<rect x="818.56" y="67.87" width="1" height="12.69" fill="#ef5350"/>
<rect x="818.06" y="72.41" width="2" height="1.76" fill="#ef5350"/>
<rect x="821.16" y="63.26" width="1" height="11.69" fill="#26a69a"/>
<rect x="820.66" y="65.52" width="2" height="8.65" fill="#26a69a"/>
<rect x="823.76" y="64.77" width="1" height="13.55" fill="#ef5350"/>
<rect x="823.26" y="65.52" width="2" height="10.81" fill="#ef5350"/>
<rect x="826.36" y="71.64" width="1" height="13.55" fill="#ef5350"/>
<rect x="825.86" y="76.33" width="2" height="7.42" fill="#ef5350"/>
<rect x="828.96" y="67.41" width="1" height="24.00" fill="#26a69a"/>
<rect x="828.46" y="75.15" width="2" height="8.60" fill="#26a69a"/>
<rect x="831.56" y="66.82" width="1" height="9.23" fill="#26a69a"/>
<rect x="831.06" y="68.75" width="2" height="6.40" fill="#26a69a"/>
<rect x="834.16" y="64.23" width="1" height="7.22" fill="#ef5350"/>
<rect x="833.66" y="68.75" width="2" height="1.54" fill="#ef5350"/>
<rect x="836.76" y="68.11" width="1" height="6.06" fill="#ef5350"/>
<rect x="836.26" y="70.29" width="2" height="2.13" fill="#ef5350"/>
<rect x="839.36" y="71.00" width="1" height="5.43" fill="#ef5350"/>
<rect x="838.86" y="72.41" width="2" height="1.17" fill="#ef5350"/>
<rect x="841.95" y="61.03" width="1" height="13.92" fill="#26a69a"/>
<rect x="841.45" y="64.95" width="2" height="8.63" fill="#26a69a"/>
<rect x="844.55" y="62.83" width="1" height="4.64" fill="#ef5350"/>
<rect x="844.05" y="64.95" width="2" height="1.32" fill="#ef5350"/>
<rect x="847.15" y="64.06" width="1" height="9.73" fill="#ef5350"/>
<rect x="846.65" y="66.28" width="2" height="5.75" fill="#ef5350"/>
<rect x="849.75" y="70.48" width="1" height="4.64" fill="#ef5350"/>
<rect x="849.25" y="72.02" width="2" height="1.56" fill="#ef5350"/>
<rect x="852.35" y="70.15" width="1" height="7.97" fill="#26a69a"/>
<rect x="851.85" y="71.64" width="2" height="1.94" fill="#26a69a"/>
<rect x="854.95" y="61.62" width="1" height="11.87" fill="#26a69a"/>
<rect x="854.45" y="64.77" width="2" height="6.87" fill="#26a69a"/>
<rect x="857.55" y="48.41" width="1" height="16.36" fill="#26a69a"/>
<rect x="857.05" y="49.29" width="2" height="15.48" fill="#26a69a"/>
<rect x="860.15" y="45.79" width="1" height="8.13" fill="#ef5350"/>
<rect x="859.65" y="49.29" width="2" height="2.30" fill="#ef5350"/>
<rect x="862.75" y="44.23" width="1" height="22.43" fill="#ef5350"/>
<rect x="862.25" y="51.59" width="2" height="7.23" fill="#ef5350"/>
<rect x="865.35" y="56.92" width="1" height="3.20" fill="#ef5350"/>
<rect x="864.85" y="58.82" width="2" height="1.00" fill="#ef5350"/>
<rect x="867.94" y="56.63" width="1" height="11.93" fill="#ef5350"/>
<rect x="867.44" y="59.19" width="2" height="2.40" fill="#ef5350"/>
<rect x="870.54" y="57.72" width="1" height="8.19" fill="#26a69a"/>
<rect x="870.04" y="60.66" width="2" height="1.00" fill="#26a69a"/>
<rect x="873.14" y="56.26" width="1" height="7.38" fill="#26a69a"/>
<rect x="872.64" y="56.63" width="2" height="4.03" fill="#26a69a"/>
<rect x="875.74" y="53.74" width="1" height="10.65" fill="#ef5350"/>
<rect x="875.24" y="56.63" width="2" height="7.01" fill="#ef5350"/>
<rect x="878.34" y="63.26" width="1" height="19.88" fill="#ef5350"/>
<rect x="877.84" y="63.64" width="2" height="13.48" fill="#ef5350"/>
<rect x="880.94" y="74.17" width="1" height="9.79" fill="#26a69a"/>
<rect x="880.44" y="76.13" width="2" height="1.00" fill="#26a69a"/>
<rect x="883.54" y="73.97" width="1" height="17.86" fill="#ef5350"/>
<rect x="883.04" y="76.13" width="2" height="14.02" fill="#ef5350"/>
<rect x="886.14" y="83.96" width="1" height="11.70" fill="#26a69a"/>
<rect x="885.64" y="85.18" width="2" height="4.97" fill="#26a69a"/>
<rect x="888.74" y="77.92" width="1" height="10.15" fill="#26a69a"/>
<rect x="888.24" y="78.71" width="2" height="6.47" fill="#26a69a"/>
<rect x="891.34" y="77.52" width="1" height="6.03" fill="#ef5350"/>
<rect x="890.84" y="78.71" width="2" height="4.11" fill="#ef5350"/>
<rect x="893.93" y="82.43" width="1" height="8.04" fill="#ef5350"/>
<rect x="893.43" y="82.82" width="2" height="4.58" fill="#ef5350"/>
</g>
<path d="M70.6,413.8 L73.1,411.5 L75.7,409.4 L78.3,407.4 L80.9,405.2 L83.5,402.9 L86.1,400.7 L88.7,398.7 L91.3,396.7 L93.9,394.6 L96.5,392.6 L99.1,390.7 L101.7,389.1 L104.3,387.3 L106.9,385.7 L109.5,384.0 L112.1,382.4 L114.7,380.7 L117.3,379.2 L119.9,377.5 L122.5,375.8 L125.1,374.0 L127.7,372.4 L130.3,370.7 L132.9,369.0 L135.5,367.0 L138.1,365.2 L140.7,363.3 L143.3,361.3 L145.9,359.4 L148.5,357.1 L151.1,354.7 L153.7,352.6 L156.3,350.2 L158.9,348.0 L161.5,345.7 L164.1,343.5 L166.7,341.3 L169.3,339.0 L171.9,336.6 L174.5,334.3 L177.1,331.8 L179.7,329.2 L182.3,326.6 L184.9,324.3 L187.5,322.2 L190.1,320.1 L192.7,318.2 L195.3,316.3 L197.9,314.5 L200.5,312.7 L203.1,310.7 L205.7,308.8 L208.3,306.8 L210.9,304.9 L213.5,303.1 L216.1,301.2 L218.7,299.2 L221.3,297.2 L223.9,295.1 L226.5,292.9 L229.1,290.6 L231.7,288.4 L234.3,286.0 L236.9,283.8 L239.5,281.7 L242.1,279.6 L244.7,277.4 L247.3,275.3 L249.9,273.2 L252.5,271.1 L255.1,269.1 L257.7,267.2 L260.3,265.3 L262.9,263.4 L265.5,261.7 L268.1,259.7 L270.7,257.8 L273.3,255.9 L275.9,253.9 L278.5,251.9 L281.1,249.9 L283.7,248.0 L286.3,246.0 L288.9,244.1 L291.5,242.3 L294.1,240.4 L296.7,238.5 L299.3,236.8 L301.9,234.9 L304.5,233.1 L307.1,231.3 L309.7,229.4 L312.3,227.6 L314.9,225.6 L317.5,223.7 L320.1,221.8 L322.7,219.9 L325.3,218.1 L327.9,216.5 L330.5,214.9 L333.1,213.3 L335.6,211.8 L338.2,210.4 L340.8,209.0 L343.4,207.6 L346.0,206.3 L348.6,204.9 L351.2,203.4 L353.8,201.9 L356.4,200.5 L359.0,199.0 L361.6,197.5 L364.2,196.0 L366.8,194.5 L369.4,193.1 L372.0,191.7 L374.6,190.2 L377.2,188.8 L379.8,187.3 L382.4,185.9 L385.0,184.5 L387.6,183.2 L390.2,182.1 L392.8,180.9 L395.4,179.8 L398.0,178.8 L400.6,177.8 L403.2,176.9 L405.8,176.0 L408.4,175.3 L411.0,174.5 L413.6,173.8 L416.2,173.1 L418.8,172.5 L421.4,171.8 L424.0,171.2 L426.6,170.5 L429.2,169.8 L431.8,169.2 L434.4,168.6 L437.0,168.1 L439.6,167.4 L442.2,166.9 L444.8,166.2 L447.4,165.6 L450.0,165.0 L452.6,164.5 L455.2,164.0 L457.8,163.5 L460.4,163.1 L463.0,162.6 L465.6,162.0 L468.2,161.5 L470.8,161.0 L473.4,160.5 L476.0,159.8 L478.6,159.2 L481.2,158.6 L483.8,158.0 L486.4,157.6 L489.0,157.1 L491.6,156.7 L494.2,156.3 L496.8,156.0 L499.4,155.6 L502.0,155.1 L504.6,154.8 L507.2,154.4 L509.8,154.0 L512.4,153.5 L515.0,153.0 L517.6,152.6 L520.2,152.2 L522.8,151.8 L525.4,151.4 L528.0,151.0 L530.6,150.7 L533.2,150.4 L535.8,150.2 L538.4,149.9 L541.0,149.6 L543.6,149.3 L546.2,149.1 L548.8,148.8 L551.4,148.6 L554.0,148.4 L556.6,148.3 L559.2,148.1 L561.8,148.0 L564.4,148.0 L567.0,147.9 L569.6,147.9 L572.2,147.9 L574.8,147.9 L577.4,147.9 L580.0,147.9 L582.6,147.9 L585.2,148.0 L587.8,148.0 L590.4,148.0 L593.0,147.9 L595.5,147.8 L598.1,147.6 L600.7,147.5 L603.3,147.5 L605.9,147.5 L608.5,147.4 L611.1,147.2 L613.7,147.1 L616.3,146.8 L618.9,146.6 L621.5,146.2 L624.1,145.9 L626.7,145.5 L629.3,145.2 L631.9,144.8 L634.5,144.4 L637.1,144.0 L639.7,143.6 L642.3,143.4 L644.9,143.1 L647.5,142.7 L650.1,142.3 L652.7,142.0 L655.3,141.7 L657.9,141.3 L660.5,141.1 L663.1,140.8 L665.7,140.6 L668.3,140.6 L670.9,140.5 L673.5,140.4 L676.1,140.4 L678.7,140.4 L681.3,140.4 L683.9,140.4 L686.5,140.3 L689.1,140.3 L691.7,140.3 L694.3,140.3 L696.9,140.5 L699.5,140.8 L702.1,141.1 L704.7,141.3 L707.3,141.4 L709.9,141.5 L712.5,141.5 L715.1,141.5 L717.7,141.5 L720.3,141.4 L722.9,141.5 L725.5,141.5 L728.1,141.5 L730.7,141.7 L733.3,141.9 L735.9,142.0 L738.5,142.2 L741.1,142.4 L743.7,142.8 L746.3,143.1 L748.9,143.5 L751.5,143.9 L754.1,144.4 L756.7,144.8 L759.3,145.0 L761.9,145.3 L764.5,145.6 L767.1,145.8 L769.7,146.0 L772.3,146.0 L774.9,146.1 L777.5,146.1 L780.1,146.1 L782.7,146.0 L785.3,145.9 L787.9,145.9 L790.5,145.8 L793.1,145.8 L795.7,145.7 L798.3,145.6 L800.9,145.5 L803.5,145.5 L806.1,145.3 L808.7,145.1 L811.3,145.0 L813.9,144.9 L816.5,144.8 L819.1,144.7 L821.7,144.6 L824.3,144.5 L826.9,144.6 L829.5,144.5 L832.1,144.5 L834.7,144.5 L837.3,144.6 L839.9,144.6 L842.5,144.6 L845.1,144.5 L847.7,144.4 L850.3,144.2 L852.9,144.1 L855.4,143.9 L858.0,143.4 L860.6,143.0 L863.2,142.6 L865.8,142.2 L868.4,142.0 L871.0,141.7 L873.6,141.4 L876.2,141.2 L878.8,141.1 L881.4,141.1 L884.0,141.0 L886.6,141.0 L889.2,140.9 L891.8,140.8 L894.4,140.8" fill="none" stroke="#ee6b97" stroke-width="1.25" stroke-linejoin="round"/>
<path d="M70.6,299.4 L73.1,295.5 L75.7,292.1 L78.3,289.1 L80.9,285.6 L83.5,281.7 L86.1,278.1 L88.7,274.7 L91.3,271.4 L93.9,268.1 L96.5,265.3 L99.1,262.4 L101.7,260.4 L104.3,258.1 L106.9,255.8 L109.5,253.6 L112.1,251.5 L114.7,249.3 L117.3,247.3 L119.9,244.9 L122.5,242.4 L125.1,239.8 L127.7,237.6 L130.3,235.4 L132.9,232.9 L135.5,230.1 L138.1,227.8 L140.7,225.5 L143.3,223.1 L145.9,220.9 L148.5,217.6 L151.1,214.2 L153.7,211.3 L156.3,207.9 L158.9,204.6 L161.5,201.6 L164.1,198.7 L166.7,195.8 L169.3,192.9 L171.9,189.8 L174.5,186.9 L177.1,183.5 L179.7,180.3 L182.3,177.2 L184.9,174.7 L187.5,172.7 L190.1,170.8 L192.7,169.6 L195.3,168.8 L197.9,168.2 L200.5,167.6 L203.1,166.3 L205.7,164.8 L208.3,162.9 L210.9,161.7 L213.5,160.6 L216.1,159.2 L218.7,157.5 L221.3,155.7 L223.9,153.7 L226.5,151.5 L229.1,149.1 L231.7,146.3 L234.3,143.3 L236.9,140.5 L239.5,138.1 L242.1,135.6 L244.7,133.0 L247.3,130.2 L249.9,127.8 L252.5,125.5 L255.1,123.3 L257.7,121.2 L260.3,119.3 L262.9,117.7 L265.5,116.4 L268.1,114.7 L270.7,113.1 L273.3,111.6 L275.9,109.9 L278.5,108.7 L281.1,107.6 L283.7,106.4 L286.3,105.4 L288.9,104.5 L291.5,103.6 L294.1,102.6 L296.7,101.7 L299.3,101.1 L301.9,100.6 L304.5,100.0 L307.1,99.7 L309.7,99.3 L312.3,99.1 L314.9,98.3 L317.5,97.1 L320.1,95.9 L322.7,94.7 L325.3,93.5 L327.9,92.7 L330.5,91.8 L333.1,91.2 L335.6,90.8 L338.2,90.6 L340.8,90.4 L343.4,90.3 L346.0,90.3 L348.6,90.0 L351.2,89.8 L353.8,89.8 L356.4,90.0 L359.0,90.0 L361.6,90.0 L364.2,90.4 L366.8,90.5 L369.4,90.7 L372.0,90.7 L374.6,90.9 L377.2,90.9 L379.8,90.8 L382.4,90.8 L385.0,91.0 L387.6,90.7 L390.2,91.1 L392.8,91.4 L395.4,91.5 L398.0,92.2 L400.6,93.0 L403.2,94.0 L405.8,95.3 L408.4,97.2 L411.0,98.7 L413.6,100.6 L416.2,102.5 L418.8,104.5 L421.4,106.2 L424.0,108.1 L426.6,109.8 L429.2,111.4 L431.8,113.4 L434.4,115.6 L437.0,117.9 L439.6,120.0 L442.2,122.2 L444.8,124.7 L447.4,127.0 L450.0,129.6 L452.6,132.2 L455.2,134.6 L457.8,136.9 L460.4,139.2 L463.0,141.2 L465.6,143.0 L468.2,144.5 L470.8,146.1 L473.4,147.3 L476.0,148.2 L478.6,149.7 L481.2,151.5 L483.8,153.3 L486.4,155.3 L489.0,157.7 L491.6,160.2 L494.2,163.1 L496.8,165.9 L499.4,168.1 L502.0,170.8 L504.6,173.7 L507.2,176.7 L509.8,179.7 L512.4,182.6 L515.0,185.0 L517.6,187.8 L520.2,189.8 L522.8,191.8 L525.4,193.8 L528.0,195.3 L530.6,196.9 L533.2,198.2 L535.8,199.4 L538.4,199.9 L541.0,200.8 L543.6,201.3 L546.2,201.7 L548.8,201.9 L551.4,202.7 L554.0,203.5 L556.6,204.5 L559.2,205.4 L561.8,206.0 L564.4,206.4 L567.0,207.0 L569.6,208.1 L572.2,208.7 L574.8,209.4 L577.4,210.2 L580.0,210.5 L582.6,210.6 L585.2,210.3 L587.8,209.5 L590.4,208.6 L593.0,208.3 L595.5,207.5 L598.1,206.9 L600.7,206.3 L603.3,206.3 L605.9,206.6 L608.5,206.7 L611.1,206.3 L613.7,205.7 L616.3,204.5 L618.9,203.4 L621.5,201.9 L624.1,200.1 L626.7,198.3 L629.3,196.9 L631.9,195.2 L634.5,193.2 L637.1,191.3 L639.7,189.9 L642.3,188.6 L644.9,187.5 L647.5,186.0 L650.1,184.0 L652.7,182.2 L655.3,180.4 L657.9,178.6 L660.5,176.9 L663.1,175.2 L665.7,173.6 L668.3,171.7 L670.9,169.9 L673.5,168.2 L676.1,166.7 L678.7,165.1 L681.3,163.2 L683.9,161.3 L686.5,159.3 L689.1,157.2 L691.7,155.0 L694.3,152.7 L696.9,151.0 L699.5,149.2 L702.1,147.7 L704.7,146.4 L707.3,145.1 L709.9,143.9 L712.5,142.9 L715.1,141.9 L717.7,141.0 L720.3,140.2 L722.9,139.4 L725.5,138.8 L728.1,138.2 L730.7,137.9 L733.3,137.7 L735.9,137.2 L738.5,136.7 L741.1,136.5 L743.7,136.5 L746.3,136.6 L748.9,136.8 L751.5,137.3 L754.1,137.7 L756.7,137.9 L759.3,137.5 L761.9,137.5 L764.5,137.4 L767.1,137.2 L769.7,136.6 L772.3,135.5 L774.9,134.6 L777.5,133.9 L780.1,133.3 L782.7,132.7 L785.3,131.9 L787.9,131.3 L790.5,130.3 L793.1,129.5 L795.7,128.0 L798.3,126.9 L800.9,125.6 L803.5,124.4 L806.1,122.7 L808.7,120.9 L811.3,119.6 L813.9,118.5 L816.5,117.5 L819.1,116.5 L821.7,115.4 L824.3,114.7 L826.9,113.6 L829.5,112.3 L832.1,110.8 L834.7,109.3 L837.3,107.8 L839.9,106.5 L842.5,104.9 L845.1,103.5 L847.7,102.3 L850.3,101.1 L852.9,99.9 L855.4,98.6 L858.0,96.8 L860.6,94.8 L863.2,92.7 L865.8,90.9 L868.4,89.3 L871.0,87.5 L873.6,85.6 L876.2,84.0 L878.8,82.5 L881.4,81.0 L884.0,79.7 L886.6,78.6 L889.2,77.7 L891.8,76.8 L894.4,76.0" fill="none" stroke="#4a9be0" stroke-width="1.3" stroke-linejoin="round"/>
<path d="M70.6,466.9 L73.1,490.0 L75.7,515.7 L78.3,526.4 L80.9,512.3 L83.5,506.3 L86.1,522.8 L88.7,527.6 L91.3,528.9 L93.9,525.2 L96.5,530.2 L99.1,533.0 L101.7,560.4 L104.3,548.3 L106.9,552.8 L109.5,552.0 L112.1,552.1 L114.7,550.4 L117.3,562.4 L119.9,544.1 L122.5,539.4 L125.1,539.4 L127.7,547.1 L130.3,544.6 L132.9,533.1 L135.5,522.6 L138.1,527.7 L140.7,521.4 L143.3,517.1 L145.9,520.4 L148.5,495.1 L151.1,494.9 L153.7,506.9 L156.3,498.3 L158.9,502.4 L161.5,503.9 L164.1,499.8 L166.7,505.2 L169.3,501.2 L171.9,493.2 L174.5,497.5 L177.1,487.3 L179.7,487.3 L182.3,484.0 L184.9,508.5 L187.5,536.3 L190.1,533.4 L192.7,545.1 L195.3,548.5 L197.9,549.3 L200.5,553.6 L203.1,534.6 L205.7,540.2 L208.3,532.6 L210.9,542.0 L213.5,540.4 L216.1,539.9 L218.7,531.1 L221.3,525.7 L223.9,517.0 L226.5,513.8 L229.1,508.0 L231.7,511.6 L234.3,500.5 L236.9,514.0 L239.5,531.8 L242.1,527.3 L244.7,520.9 L247.3,527.3 L249.9,525.9 L252.5,525.7 L255.1,529.9 L257.7,547.3 L260.3,546.1 L262.9,555.9 L265.5,560.4 L268.1,542.2 L270.7,538.6 L273.3,538.8 L275.9,530.9 L278.5,526.0 L281.1,526.0 L283.7,526.3 L286.3,525.1 L288.9,538.9 L291.5,532.7 L294.1,528.1 L296.7,536.0 L299.3,548.9 L301.9,537.2 L304.5,537.2 L307.1,528.3 L309.7,527.3 L312.3,528.5 L314.9,511.2 L317.5,516.0 L320.1,515.1 L322.7,529.4 L325.3,539.3 L327.9,560.9 L330.5,563.3 L333.1,558.1 L335.6,570.9 L338.2,579.3 L340.8,581.4 L343.4,585.3 L346.0,588.8 L348.6,557.1 L351.2,551.8 L353.8,552.6 L356.4,558.8 L359.0,537.9 L361.6,537.6 L364.2,544.2 L366.8,541.2 L369.4,560.9 L372.0,541.1 L374.6,545.9 L377.2,541.8 L379.8,535.3 L382.4,538.7 L385.0,550.4 L387.6,546.4 L390.2,573.7 L392.8,572.7 L395.4,571.6 L398.0,581.3 L400.6,582.3 L403.2,590.3 L405.8,592.0 L408.4,605.1 L411.0,584.5 L413.6,591.6 L416.2,590.9 L418.8,596.5 L421.4,576.8 L424.0,578.0 L426.6,573.9 L429.2,576.3 L431.8,583.6 L434.4,586.3 L437.0,580.6 L439.6,572.1 L442.2,574.0 L444.8,569.4 L447.4,560.8 L450.0,569.5 L452.6,574.2 L455.2,572.4 L457.8,580.1 L460.4,580.6 L463.0,558.1 L465.6,561.0 L468.2,557.8 L470.8,565.2 L473.4,547.9 L476.0,541.4 L478.6,543.1 L481.2,551.7 L483.8,553.1 L486.4,563.2 L489.0,564.5 L491.6,563.9 L494.2,579.9 L496.8,574.2 L499.4,566.8 L502.0,561.1 L504.6,573.7 L507.2,569.7 L509.8,555.7 L512.4,556.6 L515.0,549.0 L517.6,553.4 L520.2,561.0 L522.8,559.2 L525.4,553.5 L528.0,549.8 L530.6,558.9 L533.2,555.6 L535.8,557.3 L538.4,563.2 L541.0,556.5 L543.6,558.4 L546.2,552.5 L548.8,560.3 L551.4,562.9 L554.0,562.0 L556.6,568.5 L559.2,571.4 L561.8,570.4 L564.4,567.0 L567.0,574.1 L569.6,581.1 L572.2,557.2 L574.8,555.3 L577.4,543.6 L580.0,538.5 L582.6,530.3 L585.2,518.4 L587.8,507.4 L590.4,505.2 L593.0,505.2 L595.5,495.9 L598.1,503.5 L600.7,519.5 L603.3,526.4 L605.9,534.7 L608.5,525.2 L611.1,519.0 L613.7,509.7 L616.3,502.7 L618.9,510.1 L621.5,500.5 L624.1,506.8 L626.7,507.3 L629.3,517.8 L631.9,503.8 L634.5,509.8 L637.1,510.6 L639.7,520.2 L642.3,530.0 L644.9,530.0 L647.5,518.9 L650.1,507.9 L652.7,511.4 L655.3,509.7 L657.9,508.8 L660.5,525.3 L663.1,518.6 L665.7,535.7 L668.3,524.3 L670.9,525.4 L673.5,526.2 L676.1,540.2 L678.7,539.3 L681.3,529.0 L683.9,526.4 L686.5,522.5 L689.1,523.0 L691.7,512.9 L694.3,508.6 L696.9,552.0 L699.5,556.3 L702.1,554.4 L704.7,562.9 L707.3,560.4 L709.9,554.4 L712.5,561.0 L715.1,546.5 L717.7,540.2 L720.3,543.0 L722.9,546.1 L725.5,539.5 L728.1,547.2 L730.7,571.2 L733.3,580.8 L735.9,562.2 L738.5,554.5 L741.1,563.9 L743.7,564.5 L746.3,561.4 L748.9,566.2 L751.5,571.6 L754.1,568.0 L756.7,553.0 L759.3,531.0 L761.9,534.0 L764.5,531.5 L767.1,526.7 L769.7,517.4 L772.3,504.8 L774.9,514.9 L777.5,514.4 L780.1,511.0 L782.7,512.8 L785.3,503.4 L787.9,514.2 L790.5,509.4 L793.1,509.8 L795.7,496.7 L798.3,502.5 L800.9,500.7 L803.5,499.3 L806.1,493.0 L808.7,488.9 L811.3,516.0 L813.9,524.9 L816.5,522.7 L819.1,525.5 L821.7,516.9 L824.3,533.6 L826.9,543.2 L829.5,534.1 L832.1,527.7 L834.7,529.9 L837.3,533.1 L839.9,534.9 L842.5,525.0 L845.1,527.2 L847.7,536.8 L850.3,539.3 L852.9,536.6 L855.4,527.4 L858.0,510.6 L860.6,515.2 L863.2,528.3 L865.8,528.9 L868.4,533.2 L871.0,531.9 L873.6,526.4 L876.2,539.5 L878.8,559.0 L881.4,557.5 L884.0,572.9 L886.6,565.5 L889.2,556.2 L891.8,561.0 L894.4,566.1" fill="none" stroke="#805bc3" stroke-width="1.3" stroke-linejoin="round"/>
</g>
<!-- price line -->
<line x1="72" x2="976" y1="87.0" y2="87.0" stroke="#e55a56" stroke-opacity="0.85" stroke-width="1" stroke-dasharray="1.1 1.6"/>
<!-- drawings -->
<line x1="72" x2="976" y1="42.5" y2="42.5" stroke="#000" stroke-width="3.9"/>
<line x1="72" x2="976" y1="428.0" y2="83.9" stroke="#000" stroke-width="4.0"/>
<!-- borders -->
<line x1="71.5" x2="71.5" y1="0" y2="648" stroke="#dfe0e4" stroke-width="1"/>
<line x1="976.5" x2="976.5" y1="0" y2="648" stroke="#dfe0e4" stroke-width="1"/>
<line x1="0" x2="1024" y1="453.5" y2="453.5" stroke="#e3e4e8" stroke-width="1"/>
<line x1="0" x2="1024" y1="619.5" y2="619.5" stroke="#dfe0e4" stroke-width="1"/>
</svg>
<div id="clip">
<div class="pl" style="top:1.0px">80000.00</div>
<div class="pl" style="top:32.8px">70000.00</div>
<div class="pl" style="top:69.5px">60000.00</div>
<div class="pl" style="top:103.6px">52000.00</div>
<div class="pl" style="top:143.4px">44000.00</div>
<div class="pl" style="top:187.9px">36500.00</div>
<div class="pl" style="top:230.7px">30500.00</div>
<div class="pl" style="top:264.2px">26500.00</div>
<div class="pl" style="top:303.2px">22500.00</div>
<div class="pl" style="top:337.2px">19500.00</div>
<div class="pl" style="top:369.9px">17000.00</div>
<div class="pl" style="top:406.2px">14600.00</div>
<div class="pl" style="top:441.3px">12600.00</div>
</div>
<div id="usd"><span style="display:inline-block;transform:scaleX(0.88)">USD</span></div>
<div id="cur"><span>57562.59</span></div>
<div class="rl" style="top:477.4px">80.00</div>
<div class="rl" style="top:519.4px">60.00</div>
<div class="rl" style="top:561.4px">40.00</div>
<div class="rl" style="top:603.4px">20.00</div>
<div class="ml" style="left:173.1px">Mar</div>
<div class="ml" style="left:331.6px">May</div>
<div class="ml" style="left:490.2px">Jul</div>
<div class="ml" style="left:651.3px">Sep</div>
<div class="ml" style="left:809.9px">Nov</div>
<div class="lg" style="top:8.5px"><span id="t1" class="tx">Bitcoin / U.S. Dollar, 1D, BITSTAMP</span></div>
<span class="ab r" id="o1" style="left:286px;top:8.5px"><b>O</b>58679.27</span>
<span class="ab r" id="o2" style="left:353.6px;top:8.5px"><b>H</b>58775.68</span>
<span class="ab r" id="o3" style="left:420.4px;top:8.5px"><b>L</b>56825.00</span>
<span class="ab r" id="o4" style="left:485.6px;top:8.5px"><b>C</b>57562.59</span>
<span class="ab r" id="o5" style="left:552.3px;top:8.5px">&minus;1115.88</span>
<span class="ab r" id="o6" style="left:607.6px;top:8.5px;letter-spacing:-0.4px">(&minus;1.90%)</span>
<div class="lg" style="top:27px"><span id="t3" class="tx">MA (50, close, 0)</span></div>
<span class="ab" id="t4" style="left:182.6px;top:27px;color:#3a94de">60385.90</span>
<div class="lg" style="top:44.5px"><span id="t5" class="tx">MA (200, close, 0)</span></div>
<span class="ab" id="t6" style="left:188.5px;top:44.5px;color:#ee6490">46015.74</span>
<div class="lg" style="top:464px"><span id="t7">RSI (14, close)</span></div>
<span class="ab" id="t8" style="left:168.8px;top:464px;color:#7e57c2">41.38</span>
<div class="btn" style="left:24px;top:623px">Z</div>
<div class="btn" style="left:992px;top:623px">A</div>
<div id="foot">
<svg width="1024" height="32" viewBox="0 648 1024 32">
<g fill="#fff">
<rect x="925" y="656.6" width="13.3" height="3.7" rx="0.6"/>
<rect x="925" y="664.5" width="9.5" height="3.7" rx="0.6"/>
<rect x="925" y="672.8" width="5.3" height="3.8" rx="0.6"/>
</g>
<g fill="none" stroke="#fff" stroke-width="4.1" stroke-linecap="butt" stroke-linejoin="round">
<!-- f -->
<path d="M948.2,676.6 V661.8 A3.7,3.7 0 0 1 951.9,658.1 H952.6"/>
<path d="M944.4,663.9 H952.5" stroke-width="3.6"/>
<!-- i -->
<path d="M955.9,676.6 V662.9"/>
<!-- n -->
<path d="M962.4,676.6 V662.9"/>
<path d="M962.4,669.4 A4.25,4.5 0 0 1 970.9,669.4 V676.6"/>
<!-- a -->
<circle cx="981.6" cy="669.6" r="4.9"/>
<path d="M987.7,676.6 V662.9"/>
<!-- r -->
<path d="M993.5,676.6 V662.9"/>
<path d="M993.5,670 A5.2,5.1 0 0 1 998.9,664.9"/>
<!-- i -->
<path d="M1002.7,676.6 V662.9"/>
<!-- a -->
<circle cx="1012.6" cy="669.6" r="4.9"/>
<path d="M1018.7,676.6 V662.9"/>
</g>
<circle cx="955.9" cy="659.3" r="2.3" fill="#fff"/>
<circle cx="1002.7" cy="659.3" r="2.3" fill="#fff"/>
</svg>
</div>
</body></html>
